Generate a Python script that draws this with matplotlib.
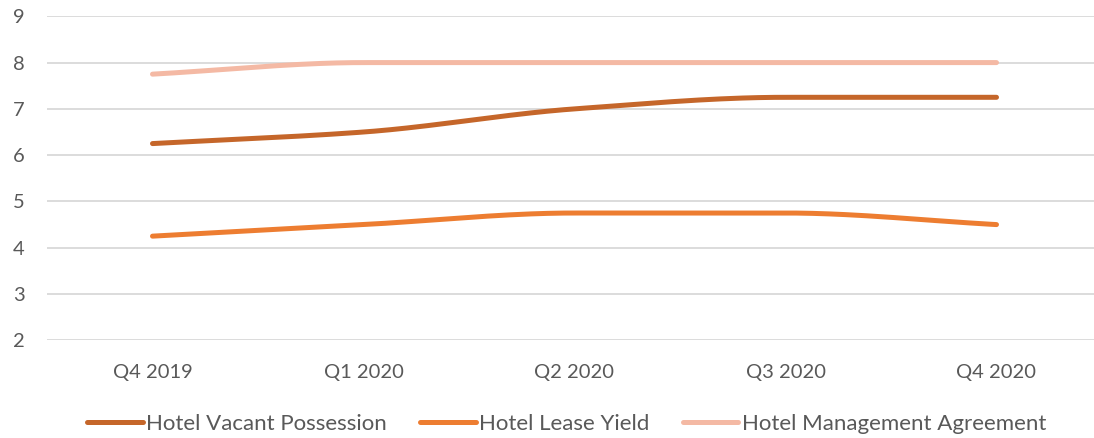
import numpy as np
import matplotlib.pyplot as plt

quarters = ["Q4 2019", "Q1 2020", "Q2 2020", "Q3 2020", "Q4 2020"]
vacant_possession = [6.25, 6.5, 7.0, 7.25, 7.25]
lease_yield = [4.25, 4.5, 4.75, 4.75, 4.5]
management_agreement = [7.75, 8.0, 8.0, 8.0, 8.0]

series = [
    ("Hotel Vacant Possession", vacant_possession, "#C5662A"),
    ("Hotel Lease Yield", lease_yield, "#ED7D31"),
    ("Hotel Management Agreement", management_agreement, "#F4B9A4"),
]


def smooth(xs, ys, n=40):
    # monotone cubic hermite so flat runs stay flat
    xs = np.asarray(xs, float)
    ys = np.asarray(ys, float)
    h = np.diff(xs)
    d = np.diff(ys) / h
    m = np.zeros(len(xs))
    m[0], m[-1] = d[0], d[-1]
    for i in range(1, len(xs) - 1):
        if d[i - 1] * d[i] > 0:
            m[i] = 2 / (1 / d[i - 1] + 1 / d[i])
    out_x, out_y = [], []
    t = np.linspace(0, 1, n)
    for i in range(len(xs) - 1):
        h00 = 2 * t ** 3 - 3 * t ** 2 + 1
        h10 = t ** 3 - 2 * t ** 2 + t
        h01 = -2 * t ** 3 + 3 * t ** 2
        h11 = t ** 3 - t ** 2
        out_x.extend(xs[i] + t * h[i])
        out_y.extend(h00 * ys[i] + h10 * h[i] * m[i] + h01 * ys[i + 1] + h11 * h[i] * m[i + 1])
    return out_x, out_y


plt.rcParams['font.family'] = ['Lato', 'DejaVu Sans']

fig = plt.figure(figsize=(10.94, 4.38), dpi=100)
ax = fig.add_axes([47 / 1094, 97.7 / 438, 1055 / 1094, 324 / 438])

x = np.arange(len(quarters))
for name, vals, color in series:
    sx, sy = smooth(x, vals)
    ax.plot(sx, sy, color=color, lw=3.6, solid_capstyle="round", label=name)

ax.set_xlim(-0.5, 4.5)
ax.set_ylim(2, 9)
ax.set_yticks(range(2, 10))
ax.set_xticks(x)
ax.set_xticklabels(quarters)
ax.grid(axis="y", color="#D9D9D9", lw=1.3)
ax.set_axisbelow(True)
for s in ax.spines.values():
    s.set_visible(False)
ax.tick_params(axis="both", length=0, labelsize=14.5, labelcolor="#595959")
ax.tick_params(axis="y", pad=16)
ax.tick_params(axis="x", pad=17)

fig.legend(loc="center", bbox_to_anchor=(0.518, 1 - 424 / 438), ncol=3,
           frameon=False, fontsize=16, labelcolor="#595959",
           handlelength=2.5, handletextpad=0.15, columnspacing=1.5)

fig.savefig("out.png", dpi=100)
